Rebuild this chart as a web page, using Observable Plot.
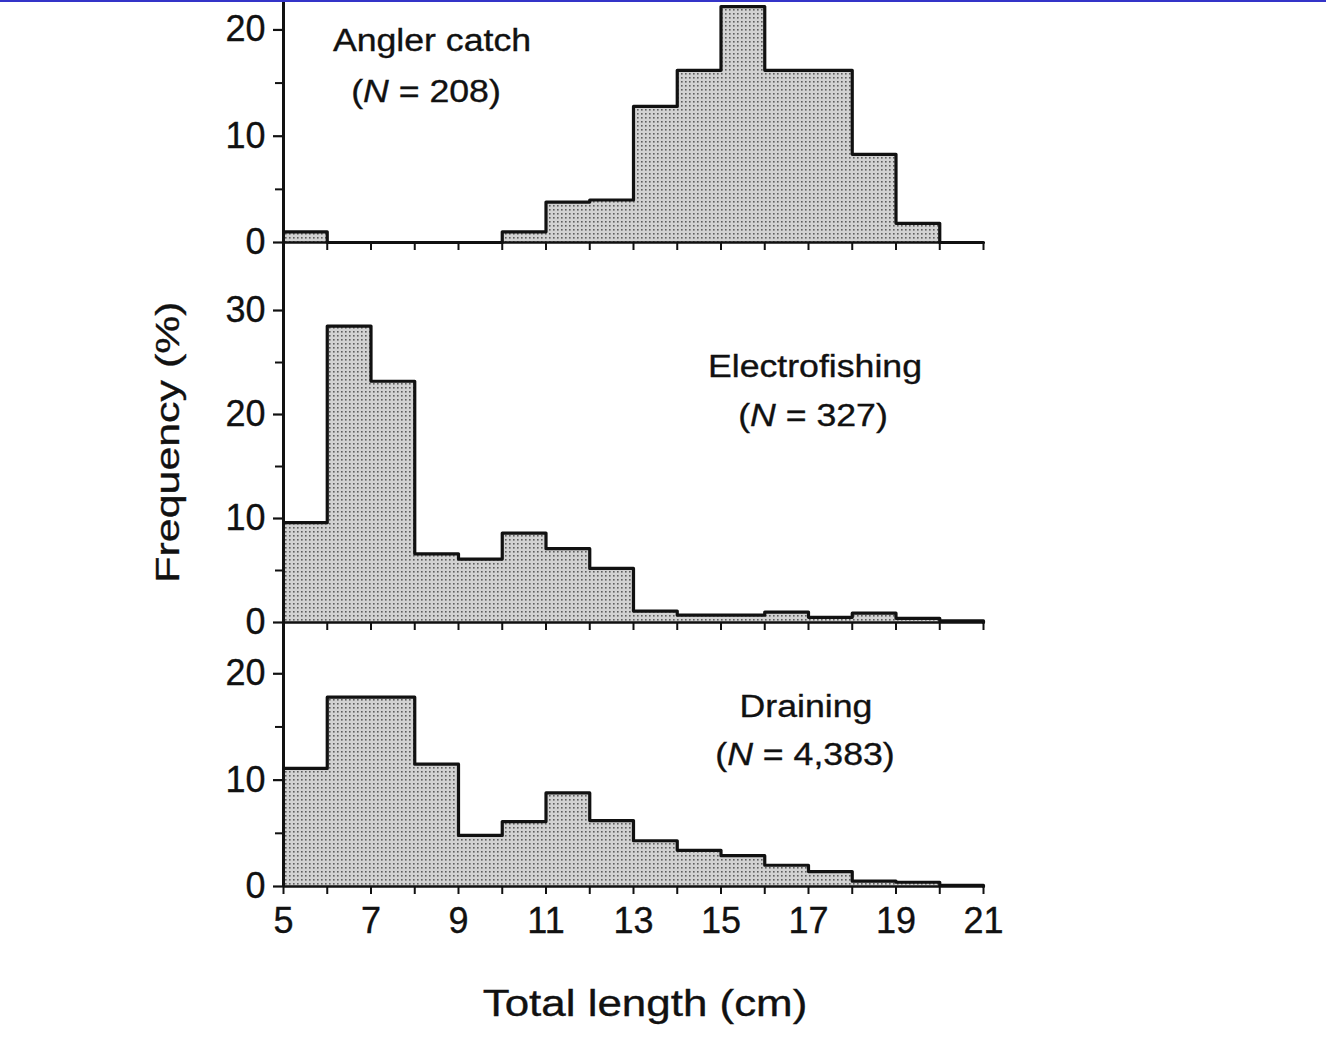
<!DOCTYPE html>
<html>
<head>
<meta charset="utf-8">
<script src="https://cdn.jsdelivr.net/npm/d3@7"></script>
<script src="https://cdn.jsdelivr.net/npm/@observablehq/plot@0.6"></script>
<style>
html, body { margin: 0; padding: 0; background: #fff; overflow: hidden; }
#wrap { position: relative; width: 1326px; height: 1062px; font-family: "Liberation Sans", Arial, sans-serif; color: #111; }
.panel { position: absolute; left: 0; }
.panel svg { overflow: visible; }
.panel svg text { stroke: #111; stroke-width: 0.35px; }
.ann { position: absolute; white-space: nowrap; line-height: 1; transform-origin: 50% 50%; -webkit-text-stroke: 0.35px #111; }
#topline { position: absolute; left: 0; top: 0; width: 1326px; height: 2px; background: #3434c8; }
</style>
</head>
<body>
<svg width="0" height="0" style="position:absolute">
  <defs>
    <pattern id="stipple" width="4" height="4" patternUnits="userSpaceOnUse">
      <rect width="4" height="4" fill="#d2d2d2"></rect>
      <rect x="1" y="1" width="1.6" height="1.6" fill="#5e5e5e"></rect>
    </pattern>
  </defs>
</svg>
<div id="wrap"></div>
<script>
// ---- data ----
const binStarts = [5, 6, 7, 8, 9, 10, 11, 12, 13, 14, 15, 16, 17, 18, 19, 20];
const anglerPct   = [1.0, 0, 0, 0, 0, 1.0, 3.8, 4.0, 12.8, 16.2, 22.2, 16.2, 16.2, 8.3, 1.8, 0];
const electroPct  = [9.6, 28.5, 23.2, 6.6, 6.1, 8.6, 7.1, 5.2, 1.1, 0.7, 0.7, 1.0, 0.5, 0.9, 0.4, 0.15];
const drainPct    = [11.1, 17.8, 17.8, 11.5, 4.8, 6.1, 8.8, 6.2, 4.3, 3.4, 2.9, 2.0, 1.4, 0.5, 0.4, 0.1];
const xTicks      = [5, 6, 7, 8, 9, 10, 11, 12, 13, 14, 15, 16, 17, 18, 19, 20, 21];
const xTickLabels = ["5", "", "7", "", "9", "", "11", "", "13", "", "15", "", "17", "", "19", "", "21"];
const panelTitles = ["Angler catch", "Electrofishing", "Draining"];
const panelN      = ["208", "327", "4,383"];
const yMajor1 = [0, 10, 20], yMinor1 = [5, 15];
const yMajor2 = [0, 10, 20, 30], yMinor2 = [5, 15, 25];
const yMajor3 = [0, 10, 20], yMinor3 = [5, 15];
const xTitle = "Total length (cm)";
const yTitle = "Frequency (%)";

// ---- layout ----
const W = 1326, ML = 283, MR = 343;
const panels = [
  {values: anglerPct,  top: 0,   plotH: 242, yMax: 22.77, major: yMajor1, minor: yMinor1, mb: 10, labels: false},
  {values: electroPct, top: 242, plotH: 380, yMax: 36.54, major: yMajor2, minor: yMinor2, mb: 10, labels: false},
  {values: drainPct,   top: 622, plotH: 264, yMax: 24.82, major: yMajor3, minor: yMinor3, mb: 70, labels: true}
];

const wrap = document.getElementById("wrap");
const ink = "#111";

panels.forEach((p) => {
  const outline = binStarts.map((x, i) => ({x, v: p.values[i]}))
    .concat([{x: binStarts[binStarts.length - 1] + 1, v: p.values[p.values.length - 1]},
             {x: binStarts[binStarts.length - 1] + 1, v: 0}]);
  const chart = Plot.plot({
    width: W,
    height: p.plotH + p.mb,
    marginLeft: ML, marginRight: MR, marginTop: 0, marginBottom: p.mb,
    x: {domain: [5, 21]},
    y: {domain: [0, p.yMax]},
    style: {background: "transparent", overflow: "visible", color: ink, fontFamily: "'Liberation Sans', Arial, sans-serif", fontSize: "36px"},
    marks: [
      Plot.areaY(outline, {x: "x", y: "v", curve: "step-after", fill: "url(#stipple)"}),
      Plot.line(outline, {x: "x", y: "v", curve: "step-after", stroke: ink, strokeWidth: 3.2}),
      Plot.ruleY([0], {stroke: ink, strokeWidth: 2.6}),
      Plot.ruleX([5], {stroke: ink, strokeWidth: 3}),
      Plot.axisY({ticks: p.major, tickSize: 10, tickPadding: 8, label: null, fontSize: 36, strokeWidth: 2.2}),
      Plot.axisY({ticks: p.minor, tickSize: 8, label: null, tickFormat: () => "", strokeWidth: 2}),
      Plot.axisX({ticks: xTicks, tickSize: 8, tickPadding: 13, label: null, fontSize: 36, strokeWidth: 2,
        tickFormat: (d) => p.labels ? xTickLabels[xTicks.indexOf(d)] : ""})
    ]
  });
  const div = document.createElement("div");
  div.className = "panel";
  div.style.top = p.top + "px";
  div.appendChild(chart);
  wrap.appendChild(div);
});

// ---- annotations ----
function addLine(html, cx, baseline, fs, sx) {
  const d = document.createElement("div");
  d.className = "ann";
  d.innerHTML = html;
  d.style.fontSize = fs + "px";
  d.style.left = cx + "px";
  d.style.top = (baseline - 0.8465 * fs) + "px";
  d.style.transform = `translateX(-50%) scaleX(${sx})`;
  wrap.appendChild(d);
}
const annPos = [
  {cx1: 432, b1: 51, cx2: 426, b2: 102},
  {cx1: 815, b1: 377, cx2: 813, b2: 426},
  {cx1: 806, b1: 717, cx2: 805, b2: 765}
];
panelTitles.forEach((t, i) => {
  const a = annPos[i];
  addLine(t, a.cx1, a.b1, 31, 1.15);
  addLine(`(<i>N</i> = ${panelN[i]})`, a.cx2, a.b2, 31, 1.15);
});

// axis titles
const xt = document.createElement("div");
xt.className = "ann";
xt.textContent = xTitle;
xt.style.fontSize = "36px";
xt.style.left = "645px";
xt.style.top = (1016 - 0.8465 * 36) + "px";
xt.style.transform = "translateX(-50%) scaleX(1.22)";
wrap.appendChild(xt);

const yt = document.createElement("div");
yt.className = "ann";
yt.textContent = yTitle;
yt.style.fontSize = "33px";
yt.style.left = (178 - 0.3465 * 33) + "px";
yt.style.top = "442px";
yt.style.transform = "translate(-50%, -50%) rotate(-90deg) scaleX(1.3)";
wrap.appendChild(yt);

const tl = document.createElement("div");
tl.id = "topline";
wrap.appendChild(tl);
</script>
</body>
</html>
